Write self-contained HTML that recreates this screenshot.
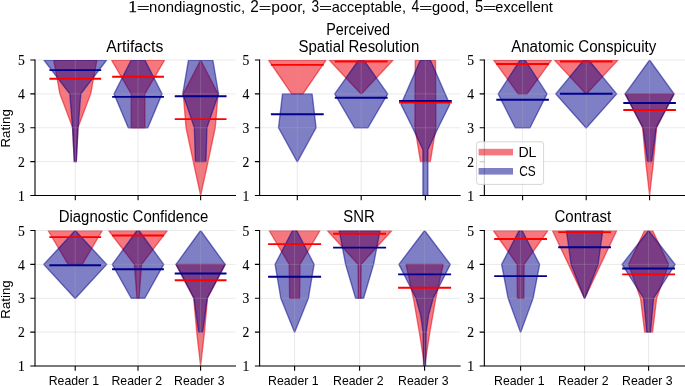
<!DOCTYPE html>
<html><head><meta charset="utf-8"><style>html,body{margin:0;padding:0;background:#fff;overflow:hidden;}svg{display:block;}text{fill:#000;}.t{will-change:transform;}</style></head><body>
<svg class="t" width="685" height="386" viewBox="0 0 685 386">
<rect width="100%" height="100%" fill="#fff"/>
<text x="149.12" y="11.8" font-family="Liberation Sans, sans-serif" font-size="14.2" textLength="96.03" lengthAdjust="spacingAndGlyphs">nondiagnostic,</text>
<text x="250.23" y="12" font-family="Liberation Sans, sans-serif" font-size="15.8" textLength="8.54" lengthAdjust="spacingAndGlyphs">2</text>
<text x="271.3" y="11.8" font-family="Liberation Sans, sans-serif" font-size="14.2" textLength="34.6" lengthAdjust="spacingAndGlyphs">poor,</text>
<text x="311.48" y="12" font-family="Liberation Sans, sans-serif" font-size="15.8" textLength="7.63" lengthAdjust="spacingAndGlyphs">3</text>
<text x="331.69" y="11.8" font-family="Liberation Sans, sans-serif" font-size="14.2" textLength="74.31" lengthAdjust="spacingAndGlyphs">acceptable,</text>
<text x="411.38" y="12" font-family="Liberation Sans, sans-serif" font-size="15.8" textLength="7.72" lengthAdjust="spacingAndGlyphs">4</text>
<text x="432.08" y="11.8" font-family="Liberation Sans, sans-serif" font-size="14.2" textLength="36.94" lengthAdjust="spacingAndGlyphs">good,</text>
<text x="474.91" y="12" font-family="Liberation Sans, sans-serif" font-size="15.8" textLength="8.21" lengthAdjust="spacingAndGlyphs">5</text>
<text x="495.39" y="11.8" font-family="Liberation Sans, sans-serif" font-size="14.2" textLength="57.51" lengthAdjust="spacingAndGlyphs">excellent</text>
<text x="128.35" y="11.8" font-family="Liberation Serif, serif" font-size="16.2" textLength="8.81" lengthAdjust="spacingAndGlyphs" stroke="#000" stroke-width="0.25">1</text>
<path d="M137.8 6.5H148.8 M137.8 9.5H148.8 M259.6 6.5H270.4 M259.6 9.5H270.4 M320 6.5H331.1 M320 9.5H331.1 M420.1 6.5H431.4 M420.1 9.5H431.4 M483.8 6.5H495.4 M483.8 9.5H495.4" stroke="#000" stroke-width="0.9" fill="none"/>
<g transform="translate(10.2 0) rotate(-90)"><text x="-147.59" y="0" font-family="Liberation Sans, sans-serif" font-size="12.8" textLength="38.45" lengthAdjust="spacingAndGlyphs">Rating</text></g>
<g transform="translate(10.2 0) rotate(-90)"><text x="-318.69" y="0" font-family="Liberation Sans, sans-serif" font-size="12.8" textLength="38.35" lengthAdjust="spacingAndGlyphs">Rating</text></g>
<clipPath id="c00"><rect x="35" y="60" width="200.5" height="135.5"/></clipPath>
<g clip-path="url(#c00)">
<polygon points="96.9,60 90.7,93.88 77.9,127.75 76.3,161.62 74.3,161.62 72.7,127.75 59.9,93.88 53.7,60" fill="rgb(234,0,12)" fill-opacity="0.53" stroke="rgb(234,0,12)" stroke-opacity="0.53" stroke-width="1.35" stroke-linejoin="round"/>
<polygon points="164.65,60 144.85,93.88 144.85,127.75 131.25,127.75 131.25,93.88 111.45,60" fill="rgb(234,0,12)" fill-opacity="0.53" stroke="rgb(234,0,12)" stroke-opacity="0.53" stroke-width="1.35" stroke-linejoin="round"/>
<polygon points="200.65,60 218.05,93.88 215.25,127.75 208.05,161.62 200.65,195.5 200.65,195.5 193.25,161.62 186.05,127.75 183.25,93.88 200.65,60" fill="rgb(234,0,12)" fill-opacity="0.53" stroke="rgb(234,0,12)" stroke-opacity="0.53" stroke-width="1.35" stroke-linejoin="round"/>
<polygon points="106.7,60 80.8,93.88 78.1,127.75 76.3,161.62 74.3,161.62 72.5,127.75 69.8,93.88 43.9,60" fill="#00008b" fill-opacity="0.5" stroke="#00008b" stroke-opacity="0.5" stroke-width="1.35" stroke-linejoin="round"/>
<polygon points="144.85,60 162.05,93.88 147.85,127.75 128.25,127.75 114.05,93.88 131.25,60" fill="#00008b" fill-opacity="0.5" stroke="#00008b" stroke-opacity="0.5" stroke-width="1.35" stroke-linejoin="round"/>
<polygon points="212.85,60 218.55,93.88 206.95,127.75 205.95,161.62 195.35,161.62 194.35,127.75 182.75,93.88 188.45,60" fill="#00008b" fill-opacity="0.5" stroke="#00008b" stroke-opacity="0.5" stroke-width="1.35" stroke-linejoin="round"/>
</g>
<path d="M35 195.5H235.5 M35 161.62H235.5 M35 127.75H235.5 M35 93.88H235.5 M35 60H235.5 M75.3 60V195.5 M138.05 60V195.5 M200.65 60V195.5" stroke="rgba(176,176,176,0.35)" stroke-width="0.8" fill="none"/>
<path d="M49.4 78.7H101.2" stroke="#ff0000" stroke-width="1.9"/>
<path d="M49.4 70.1H101.2" stroke="#00008b" stroke-width="1.9"/>
<path d="M112.15 76.7H163.95" stroke="#ff0000" stroke-width="1.9"/>
<path d="M112.15 96.9H163.95" stroke="#00008b" stroke-width="1.9"/>
<path d="M174.75 119.1H226.55" stroke="#ff0000" stroke-width="1.9"/>
<path d="M174.75 96.2H226.55" stroke="#00008b" stroke-width="1.9"/>
<path d="M35 60V195.5 M35 195.5H235.5" stroke="#000" stroke-width="1.1" fill="none" stroke-linecap="square"/>
<path d="M30.3 195.5H35 M30.3 161.62H35 M30.3 127.75H35 M30.3 93.88H35 M30.3 60H35 M75.3 195.5V200.2 M138.05 195.5V200.2 M200.65 195.5V200.2" stroke="#000" stroke-width="1.1" fill="none"/>
<text x="24.7" y="200.7" font-family="Liberation Serif, serif" font-size="13.6" text-anchor="end" stroke="#000" stroke-width="0.12">1</text>
<text x="24.7" y="166.82" font-family="Liberation Serif, serif" font-size="13.6" text-anchor="end" stroke="#000" stroke-width="0.12">2</text>
<text x="24.7" y="132.95" font-family="Liberation Serif, serif" font-size="13.6" text-anchor="end" stroke="#000" stroke-width="0.12">3</text>
<text x="24.7" y="99.08" font-family="Liberation Serif, serif" font-size="13.6" text-anchor="end" stroke="#000" stroke-width="0.12">4</text>
<text x="24.7" y="65.2" font-family="Liberation Serif, serif" font-size="13.6" text-anchor="end" stroke="#000" stroke-width="0.12">5</text>
<text x="106.37" y="51.6" font-family="Liberation Sans, sans-serif" font-size="15.6" textLength="56.9" lengthAdjust="spacingAndGlyphs">Artifacts</text>
<clipPath id="c01"><rect x="259.6" y="60" width="200.5" height="135.5"/></clipPath>
<g clip-path="url(#c01)">
<polygon points="326.1,60 302.9,93.88 291.7,93.88 268.5,60" fill="rgb(234,0,12)" fill-opacity="0.53" stroke="rgb(234,0,12)" stroke-opacity="0.53" stroke-width="1.35" stroke-linejoin="round"/>
<polygon points="393.2,60 361.5,93.88 360.9,93.88 329.2,60" fill="rgb(234,0,12)" fill-opacity="0.53" stroke="rgb(234,0,12)" stroke-opacity="0.53" stroke-width="1.35" stroke-linejoin="round"/>
<polygon points="435.5,60 435.9,127.75 430.3,161.62 420.5,161.62 414.9,127.75 415.3,60" fill="rgb(234,0,12)" fill-opacity="0.53" stroke="rgb(234,0,12)" stroke-opacity="0.53" stroke-width="1.35" stroke-linejoin="round"/>
<polygon points="312.1,93.88 316.1,127.75 297.5,161.62 297.1,161.62 278.5,127.75 282.5,93.88" fill="#00008b" fill-opacity="0.5" stroke="#00008b" stroke-opacity="0.5" stroke-width="1.35" stroke-linejoin="round"/>
<polygon points="363.8,60 387.7,93.88 368,127.75 354.4,127.75 334.7,93.88 358.6,60" fill="#00008b" fill-opacity="0.5" stroke="#00008b" stroke-opacity="0.5" stroke-width="1.35" stroke-linejoin="round"/>
<polygon points="430.4,60 449.8,104.38 438.2,127.75 427.9,149.77 427.9,195.5 422.9,195.5 422.9,149.77 412.6,127.75 401,104.38 420.4,60" fill="#00008b" fill-opacity="0.5" stroke="#00008b" stroke-opacity="0.5" stroke-width="1.35" stroke-linejoin="round"/>
</g>
<path d="M259.6 195.5H460.1 M259.6 161.62H460.1 M259.6 127.75H460.1 M259.6 93.88H460.1 M259.6 60H460.1 M297.3 60V195.5 M361.2 60V195.5 M425.4 60V195.5" stroke="rgba(176,176,176,0.35)" stroke-width="0.8" fill="none"/>
<path d="M270.9 64.9H323.7" stroke="#ff0000" stroke-width="1.9"/>
<path d="M270.9 114.2H323.7" stroke="#00008b" stroke-width="1.9"/>
<path d="M334.8 61.5H387.6" stroke="#ff0000" stroke-width="1.9"/>
<path d="M334.8 97.8H387.6" stroke="#00008b" stroke-width="1.9"/>
<path d="M399 102.5H451.8" stroke="#ff0000" stroke-width="1.9"/>
<path d="M399 100.9H451.8" stroke="#00008b" stroke-width="1.9"/>
<path d="M259.6 60V195.5 M259.6 195.5H460.1" stroke="#000" stroke-width="1.1" fill="none" stroke-linecap="square"/>
<path d="M254.9 195.5H259.6 M254.9 161.62H259.6 M254.9 127.75H259.6 M254.9 93.88H259.6 M254.9 60H259.6 M297.3 195.5V200.2 M361.2 195.5V200.2 M425.4 195.5V200.2" stroke="#000" stroke-width="1.1" fill="none"/>
<text x="249.3" y="200.7" font-family="Liberation Serif, serif" font-size="13.6" text-anchor="end" stroke="#000" stroke-width="0.12">1</text>
<text x="249.3" y="166.82" font-family="Liberation Serif, serif" font-size="13.6" text-anchor="end" stroke="#000" stroke-width="0.12">2</text>
<text x="249.3" y="132.95" font-family="Liberation Serif, serif" font-size="13.6" text-anchor="end" stroke="#000" stroke-width="0.12">3</text>
<text x="249.3" y="99.08" font-family="Liberation Serif, serif" font-size="13.6" text-anchor="end" stroke="#000" stroke-width="0.12">4</text>
<text x="249.3" y="65.2" font-family="Liberation Serif, serif" font-size="13.6" text-anchor="end" stroke="#000" stroke-width="0.12">5</text>
<text x="326.22" y="34.6" font-family="Liberation Sans, sans-serif" font-size="15.6" textLength="63.79" lengthAdjust="spacingAndGlyphs">Perceived</text>
<text x="298.53" y="51.6" font-family="Liberation Sans, sans-serif" font-size="15.6" textLength="120.76" lengthAdjust="spacingAndGlyphs">Spatial Resolution</text>
<clipPath id="c02"><rect x="484.35" y="60" width="200.85" height="135.5"/></clipPath>
<g clip-path="url(#c02)">
<polygon points="551.6,60 527,93.88 518.2,93.88 493.6,60" fill="rgb(234,0,12)" fill-opacity="0.53" stroke="rgb(234,0,12)" stroke-opacity="0.53" stroke-width="1.35" stroke-linejoin="round"/>
<polygon points="618,60 586.5,93.88 585.9,93.88 554.4,60" fill="rgb(234,0,12)" fill-opacity="0.53" stroke="rgb(234,0,12)" stroke-opacity="0.53" stroke-width="1.35" stroke-linejoin="round"/>
<polygon points="674,93.88 656.6,127.75 653.5,161.62 649.6,195.5 649.6,195.5 645.7,161.62 642.6,127.75 625.2,93.88" fill="rgb(234,0,12)" fill-opacity="0.53" stroke="rgb(234,0,12)" stroke-opacity="0.53" stroke-width="1.35" stroke-linejoin="round"/>
<polygon points="525.1,60 547,93.88 530,127.75 515.2,127.75 498.2,93.88 520.1,60" fill="#00008b" fill-opacity="0.5" stroke="#00008b" stroke-opacity="0.5" stroke-width="1.35" stroke-linejoin="round"/>
<polygon points="588.7,60 616.7,93.88 586.5,127.75 585.9,127.75 555.7,93.88 583.7,60" fill="#00008b" fill-opacity="0.5" stroke="#00008b" stroke-opacity="0.5" stroke-width="1.35" stroke-linejoin="round"/>
<polygon points="649.6,60 674.1,93.88 656.2,127.75 651.7,161.62 647.5,161.62 643,127.75 625.1,93.88 649.6,60" fill="#00008b" fill-opacity="0.5" stroke="#00008b" stroke-opacity="0.5" stroke-width="1.35" stroke-linejoin="round"/>
</g>
<path d="M484.35 195.5H685.2 M484.35 161.62H685.2 M484.35 127.75H685.2 M484.35 93.88H685.2 M484.35 60H685.2 M522.6 60V195.5 M586.2 60V195.5 M649.6 60V195.5" stroke="rgba(176,176,176,0.35)" stroke-width="0.8" fill="none"/>
<path d="M496.3 64H548.9" stroke="#ff0000" stroke-width="1.9"/>
<path d="M496.3 99.8H548.9" stroke="#00008b" stroke-width="1.9"/>
<path d="M559.9 61.5H612.5" stroke="#ff0000" stroke-width="1.9"/>
<path d="M559.9 93.8H612.5" stroke="#00008b" stroke-width="1.9"/>
<path d="M623.3 110H675.9" stroke="#ff0000" stroke-width="1.9"/>
<path d="M623.3 103H675.9" stroke="#00008b" stroke-width="1.9"/>
<path d="M484.35 60V195.5 M484.35 195.5H685.2" stroke="#000" stroke-width="1.1" fill="none" stroke-linecap="square"/>
<path d="M479.65 195.5H484.35 M479.65 161.62H484.35 M479.65 127.75H484.35 M479.65 93.88H484.35 M479.65 60H484.35 M522.6 195.5V200.2 M586.2 195.5V200.2 M649.6 195.5V200.2" stroke="#000" stroke-width="1.1" fill="none"/>
<text x="474.05" y="200.7" font-family="Liberation Serif, serif" font-size="13.6" text-anchor="end" stroke="#000" stroke-width="0.12">1</text>
<text x="474.05" y="166.82" font-family="Liberation Serif, serif" font-size="13.6" text-anchor="end" stroke="#000" stroke-width="0.12">2</text>
<text x="474.05" y="132.95" font-family="Liberation Serif, serif" font-size="13.6" text-anchor="end" stroke="#000" stroke-width="0.12">3</text>
<text x="474.05" y="99.08" font-family="Liberation Serif, serif" font-size="13.6" text-anchor="end" stroke="#000" stroke-width="0.12">4</text>
<text x="474.05" y="65.2" font-family="Liberation Serif, serif" font-size="13.6" text-anchor="end" stroke="#000" stroke-width="0.12">5</text>
<text x="511.17" y="51.6" font-family="Liberation Sans, sans-serif" font-size="15.6" textLength="145.16" lengthAdjust="spacingAndGlyphs">Anatomic Conspicuity</text>
<clipPath id="c10"><rect x="35" y="230.5" width="200.5" height="135.5"/></clipPath>
<g clip-path="url(#c10)">
<polygon points="102.3,230.5 82.3,264.38 68.1,264.38 48.1,230.5" fill="rgb(234,0,12)" fill-opacity="0.53" stroke="rgb(234,0,12)" stroke-opacity="0.53" stroke-width="1.35" stroke-linejoin="round"/>
<polygon points="167.4,230.5 141.6,264.38 139,298.25 137,298.25 134.4,264.38 108.6,230.5" fill="rgb(234,0,12)" fill-opacity="0.53" stroke="rgb(234,0,12)" stroke-opacity="0.53" stroke-width="1.35" stroke-linejoin="round"/>
<polygon points="225.2,264.38 207.5,298.25 204.5,332.12 200.6,366 200.6,366 196.7,332.12 193.7,298.25 176,264.38" fill="rgb(234,0,12)" fill-opacity="0.53" stroke="rgb(234,0,12)" stroke-opacity="0.53" stroke-width="1.35" stroke-linejoin="round"/>
<polygon points="75.2,230.5 106.7,264.38 75.5,298.25 74.9,298.25 43.7,264.38 75.2,230.5" fill="#00008b" fill-opacity="0.5" stroke="#00008b" stroke-opacity="0.5" stroke-width="1.35" stroke-linejoin="round"/>
<polygon points="139,230.5 163.7,264.38 144.8,298.25 131.2,298.25 112.3,264.38 137,230.5" fill="#00008b" fill-opacity="0.5" stroke="#00008b" stroke-opacity="0.5" stroke-width="1.35" stroke-linejoin="round"/>
<polygon points="200.6,230.5 225.2,264.38 207.2,298.25 202.7,332.12 198.5,332.12 194,298.25 176,264.38 200.6,230.5" fill="#00008b" fill-opacity="0.5" stroke="#00008b" stroke-opacity="0.5" stroke-width="1.35" stroke-linejoin="round"/>
</g>
<path d="M35 366H235.5 M35 332.12H235.5 M35 298.25H235.5 M35 264.38H235.5 M35 230.5H235.5 M75.2 230.5V366 M138 230.5V366 M200.6 230.5V366" stroke="rgba(176,176,176,0.35)" stroke-width="0.8" fill="none"/>
<path d="M49.3 237.1H101.1" stroke="#ff0000" stroke-width="1.9"/>
<path d="M49.3 265.2H101.1" stroke="#00008b" stroke-width="1.9"/>
<path d="M112.1 235.5H163.9" stroke="#ff0000" stroke-width="1.9"/>
<path d="M112.1 269.3H163.9" stroke="#00008b" stroke-width="1.9"/>
<path d="M174.7 280.3H226.5" stroke="#ff0000" stroke-width="1.9"/>
<path d="M174.7 273.5H226.5" stroke="#00008b" stroke-width="1.9"/>
<path d="M35 230.5V366 M35 366H235.5" stroke="#000" stroke-width="1.1" fill="none" stroke-linecap="square"/>
<path d="M30.3 366H35 M30.3 332.12H35 M30.3 298.25H35 M30.3 264.38H35 M30.3 230.5H35 M75.2 366V370.7 M138 366V370.7 M200.6 366V370.7" stroke="#000" stroke-width="1.1" fill="none"/>
<text x="24.7" y="371.2" font-family="Liberation Serif, serif" font-size="13.6" text-anchor="end" stroke="#000" stroke-width="0.12">1</text>
<text x="24.7" y="337.32" font-family="Liberation Serif, serif" font-size="13.6" text-anchor="end" stroke="#000" stroke-width="0.12">2</text>
<text x="24.7" y="303.45" font-family="Liberation Serif, serif" font-size="13.6" text-anchor="end" stroke="#000" stroke-width="0.12">3</text>
<text x="24.7" y="269.57" font-family="Liberation Serif, serif" font-size="13.6" text-anchor="end" stroke="#000" stroke-width="0.12">4</text>
<text x="24.7" y="235.7" font-family="Liberation Serif, serif" font-size="13.6" text-anchor="end" stroke="#000" stroke-width="0.12">5</text>
<text x="48.69" y="384.95" font-family="Liberation Sans, sans-serif" font-size="13.6" textLength="50.51" lengthAdjust="spacingAndGlyphs">Reader 1</text>
<text x="111.49" y="384.95" font-family="Liberation Sans, sans-serif" font-size="13.6" textLength="50.52" lengthAdjust="spacingAndGlyphs">Reader 2</text>
<text x="174.09" y="384.95" font-family="Liberation Sans, sans-serif" font-size="13.6" textLength="50.44" lengthAdjust="spacingAndGlyphs">Reader 3</text>
<text x="58.67" y="222" font-family="Liberation Sans, sans-serif" font-size="15.6" textLength="149.58" lengthAdjust="spacingAndGlyphs">Diagnostic Confidence</text>
<clipPath id="c11"><rect x="259.6" y="230.5" width="200.5" height="135.5"/></clipPath>
<g clip-path="url(#c11)">
<polygon points="320.1,230.5 300,264.38 299.6,298.25 289.6,298.25 289.2,264.38 269.1,230.5" fill="rgb(234,0,12)" fill-opacity="0.53" stroke="rgb(234,0,12)" stroke-opacity="0.53" stroke-width="1.35" stroke-linejoin="round"/>
<polygon points="391.9,230.5 361.1,264.38 360.8,298.25 358.4,298.25 358.1,264.38 327.3,230.5" fill="rgb(234,0,12)" fill-opacity="0.53" stroke="rgb(234,0,12)" stroke-opacity="0.53" stroke-width="1.35" stroke-linejoin="round"/>
<polygon points="443.2,264.38 435.8,298.25 429.9,332.12 424.6,366 424.6,366 419.3,332.12 413.4,298.25 406,264.38" fill="rgb(234,0,12)" fill-opacity="0.53" stroke="rgb(234,0,12)" stroke-opacity="0.53" stroke-width="1.35" stroke-linejoin="round"/>
<polygon points="296.7,230.5 314.1,264.38 308.4,298.25 294.8,332.12 294.4,332.12 280.8,298.25 275.1,264.38 292.5,230.5" fill="#00008b" fill-opacity="0.5" stroke="#00008b" stroke-opacity="0.5" stroke-width="1.35" stroke-linejoin="round"/>
<polygon points="380,230.5 373.6,264.38 363.6,298.25 355.6,298.25 345.6,264.38 339.2,230.5" fill="#00008b" fill-opacity="0.5" stroke="#00008b" stroke-opacity="0.5" stroke-width="1.35" stroke-linejoin="round"/>
<polygon points="424.6,230.5 450.3,264.38 433.2,298.25 428.6,315.19 426.2,332.12 425.6,366 423.6,366 423,332.12 420.6,315.19 416,298.25 398.9,264.38 424.6,230.5" fill="#00008b" fill-opacity="0.5" stroke="#00008b" stroke-opacity="0.5" stroke-width="1.35" stroke-linejoin="round"/>
</g>
<path d="M259.6 366H460.1 M259.6 332.12H460.1 M259.6 298.25H460.1 M259.6 264.38H460.1 M259.6 230.5H460.1 M294.6 230.5V366 M359.6 230.5V366 M424.6 230.5V366" stroke="rgba(176,176,176,0.35)" stroke-width="0.8" fill="none"/>
<path d="M268.1 244.1H321.1" stroke="#ff0000" stroke-width="1.9"/>
<path d="M268.1 276.8H321.1" stroke="#00008b" stroke-width="1.9"/>
<path d="M333.1 233.8H386.1" stroke="#ff0000" stroke-width="1.9"/>
<path d="M333.1 247.6H386.1" stroke="#00008b" stroke-width="1.9"/>
<path d="M398.1 287.7H451.1" stroke="#ff0000" stroke-width="1.9"/>
<path d="M398.1 274.4H451.1" stroke="#00008b" stroke-width="1.9"/>
<path d="M259.6 230.5V366 M259.6 366H460.1" stroke="#000" stroke-width="1.1" fill="none" stroke-linecap="square"/>
<path d="M254.9 366H259.6 M254.9 332.12H259.6 M254.9 298.25H259.6 M254.9 264.38H259.6 M254.9 230.5H259.6 M294.6 366V370.7 M359.6 366V370.7 M424.6 366V370.7" stroke="#000" stroke-width="1.1" fill="none"/>
<text x="249.3" y="371.2" font-family="Liberation Serif, serif" font-size="13.6" text-anchor="end" stroke="#000" stroke-width="0.12">1</text>
<text x="249.3" y="337.32" font-family="Liberation Serif, serif" font-size="13.6" text-anchor="end" stroke="#000" stroke-width="0.12">2</text>
<text x="249.3" y="303.45" font-family="Liberation Serif, serif" font-size="13.6" text-anchor="end" stroke="#000" stroke-width="0.12">3</text>
<text x="249.3" y="269.57" font-family="Liberation Serif, serif" font-size="13.6" text-anchor="end" stroke="#000" stroke-width="0.12">4</text>
<text x="249.3" y="235.7" font-family="Liberation Serif, serif" font-size="13.6" text-anchor="end" stroke="#000" stroke-width="0.12">5</text>
<text x="268.09" y="384.95" font-family="Liberation Sans, sans-serif" font-size="13.6" textLength="50.51" lengthAdjust="spacingAndGlyphs">Reader 1</text>
<text x="333.09" y="384.95" font-family="Liberation Sans, sans-serif" font-size="13.6" textLength="50.52" lengthAdjust="spacingAndGlyphs">Reader 2</text>
<text x="398.09" y="384.95" font-family="Liberation Sans, sans-serif" font-size="13.6" textLength="50.44" lengthAdjust="spacingAndGlyphs">Reader 3</text>
<text x="343.23" y="222" font-family="Liberation Sans, sans-serif" font-size="15.6" textLength="31.46" lengthAdjust="spacingAndGlyphs">SNR</text>
<clipPath id="c12"><rect x="484.35" y="230.5" width="200.85" height="135.5"/></clipPath>
<g clip-path="url(#c12)">
<polygon points="547.9,230.5 524.1,264.38 523.8,298.25 517.4,298.25 517.1,264.38 493.3,230.5" fill="rgb(234,0,12)" fill-opacity="0.53" stroke="rgb(234,0,12)" stroke-opacity="0.53" stroke-width="1.35" stroke-linejoin="round"/>
<polygon points="616.8,230.5 600.7,264.38 584.8,298.25 584.4,298.25 568.5,264.38 552.4,230.5" fill="rgb(234,0,12)" fill-opacity="0.53" stroke="rgb(234,0,12)" stroke-opacity="0.53" stroke-width="1.35" stroke-linejoin="round"/>
<polygon points="652.6,230.5 668.6,264.38 656.7,298.25 652.5,332.12 644.7,332.12 640.5,298.25 628.6,264.38 644.6,230.5" fill="rgb(234,0,12)" fill-opacity="0.53" stroke="rgb(234,0,12)" stroke-opacity="0.53" stroke-width="1.35" stroke-linejoin="round"/>
<polygon points="522.1,230.5 539.6,264.38 533.1,298.25 520.8,332.12 520.4,332.12 508.1,298.25 501.6,264.38 519.1,230.5" fill="#00008b" fill-opacity="0.5" stroke="#00008b" stroke-opacity="0.5" stroke-width="1.35" stroke-linejoin="round"/>
<polygon points="602.8,230.5 598.1,264.38 584.8,298.25 584.4,298.25 571.1,264.38 566.4,230.5" fill="#00008b" fill-opacity="0.5" stroke="#00008b" stroke-opacity="0.5" stroke-width="1.35" stroke-linejoin="round"/>
<polygon points="648.6,230.5 675.1,264.38 653.6,298.25 650.5,332.12 646.7,332.12 643.6,298.25 622.1,264.38 648.6,230.5" fill="#00008b" fill-opacity="0.5" stroke="#00008b" stroke-opacity="0.5" stroke-width="1.35" stroke-linejoin="round"/>
</g>
<path d="M484.35 366H685.2 M484.35 332.12H685.2 M484.35 298.25H685.2 M484.35 264.38H685.2 M484.35 230.5H685.2 M520.6 230.5V366 M584.6 230.5V366 M648.6 230.5V366" stroke="rgba(176,176,176,0.35)" stroke-width="0.8" fill="none"/>
<path d="M494.2 239H547" stroke="#ff0000" stroke-width="1.9"/>
<path d="M494.2 276.1H547" stroke="#00008b" stroke-width="1.9"/>
<path d="M558.2 232.1H611" stroke="#ff0000" stroke-width="1.9"/>
<path d="M558.2 247.2H611" stroke="#00008b" stroke-width="1.9"/>
<path d="M622.2 274.4H675" stroke="#ff0000" stroke-width="1.9"/>
<path d="M622.2 268.5H675" stroke="#00008b" stroke-width="1.9"/>
<path d="M484.35 230.5V366 M484.35 366H685.2" stroke="#000" stroke-width="1.1" fill="none" stroke-linecap="square"/>
<path d="M479.65 366H484.35 M479.65 332.12H484.35 M479.65 298.25H484.35 M479.65 264.38H484.35 M479.65 230.5H484.35 M520.6 366V370.7 M584.6 366V370.7 M648.6 366V370.7" stroke="#000" stroke-width="1.1" fill="none"/>
<text x="474.05" y="371.2" font-family="Liberation Serif, serif" font-size="13.6" text-anchor="end" stroke="#000" stroke-width="0.12">1</text>
<text x="474.05" y="337.32" font-family="Liberation Serif, serif" font-size="13.6" text-anchor="end" stroke="#000" stroke-width="0.12">2</text>
<text x="474.05" y="303.45" font-family="Liberation Serif, serif" font-size="13.6" text-anchor="end" stroke="#000" stroke-width="0.12">3</text>
<text x="474.05" y="269.57" font-family="Liberation Serif, serif" font-size="13.6" text-anchor="end" stroke="#000" stroke-width="0.12">4</text>
<text x="474.05" y="235.7" font-family="Liberation Serif, serif" font-size="13.6" text-anchor="end" stroke="#000" stroke-width="0.12">5</text>
<text x="494.09" y="384.95" font-family="Liberation Sans, sans-serif" font-size="13.6" textLength="50.51" lengthAdjust="spacingAndGlyphs">Reader 1</text>
<text x="558.09" y="384.95" font-family="Liberation Sans, sans-serif" font-size="13.6" textLength="50.52" lengthAdjust="spacingAndGlyphs">Reader 2</text>
<text x="622.09" y="384.95" font-family="Liberation Sans, sans-serif" font-size="13.6" textLength="50.44" lengthAdjust="spacingAndGlyphs">Reader 3</text>
<text x="554.53" y="222" font-family="Liberation Sans, sans-serif" font-size="15.6" textLength="56.78" lengthAdjust="spacingAndGlyphs">Contrast</text>
<rect x="476.6" y="141.8" width="67" height="42.6" rx="2.5" ry="2.5" fill="#fff" fill-opacity="0.8" stroke="#cccccc" stroke-opacity="0.8" stroke-width="1"/>
<rect x="478.6" y="148.8" width="34.4" height="6.6" fill="rgb(234,0,12)" fill-opacity="0.53" stroke="rgb(234,0,12)" stroke-opacity="0.5" stroke-width="0"/>
<rect x="478.6" y="168.0" width="34.4" height="6.6" fill="#00008b" fill-opacity="0.5" stroke="#00008b" stroke-opacity="0.5" stroke-width="0"/>
<text x="518.44" y="157.2" font-family="Liberation Sans, sans-serif" font-size="13.8" textLength="18.03" lengthAdjust="spacingAndGlyphs">DL</text>
<text x="519.3" y="175.9" font-family="Liberation Sans, sans-serif" font-size="13.8" textLength="16.45" lengthAdjust="spacingAndGlyphs">CS</text>
</svg>
</body></html>
